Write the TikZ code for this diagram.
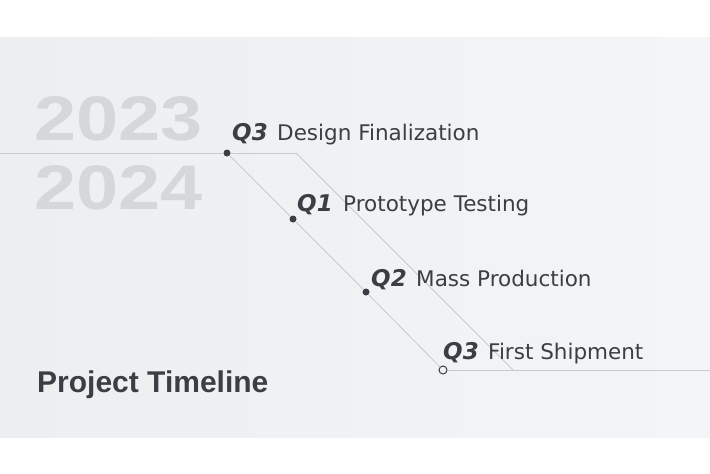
\documentclass[tikz,border=0pt]{standalone}
\usepackage{fontspec}
\usepackage{graphicx}
\setmainfont{DejaVu Sans}
\newfontfamily\libsans{Liberation Sans}
\definecolor{ink}{HTML}{3B3E44}
\definecolor{panelL}{HTML}{EDEEF0}
\definecolor{panelR}{HTML}{F4F5F7}
\definecolor{panel}{HTML}{F1F2F4}
\definecolor{linec}{HTML}{C9CACD}
\definecolor{yearc}{HTML}{D6D7D9}
\begin{document}
\begin{tikzpicture}[x=1pt,y=-1pt,
  dotn/.style={circle,fill=ink,inner sep=0pt,minimum size=7pt},
  opendot/.style={circle,draw=ink,fill=panel,line width=1pt,inner sep=0pt,minimum size=8pt},
  tline/.style={draw=linec,line width=0.8pt},
  qlab/.style={anchor=base west,inner sep=0pt,text=ink,font=\fontsize{23}{27}\selectfont\bfseries\itshape},
  itemlab/.style={anchor=base west,inner sep=0pt,text=ink,font=\fontsize{21.5}{25}\selectfont},
  yearlab/.style={anchor=base west,inner sep=0pt,text=yearc,font=\libsans\bfseries\fontsize{63}{70}\selectfont},
  titlelab/.style={anchor=base west,inner sep=0pt,text=ink,font=\libsans\bfseries\fontsize{30}{34}\selectfont},
]
\useasboundingbox (0,0) rectangle (710,474);
\fill[white] (0,0) rectangle (710,474);
\shade[left color=panelL,right color=panelR] (0,37) rectangle (710,437);

% years
\node[yearlab] (y23) at (34,140) {\scalebox{1.2}[1]{2023}};
\node[yearlab] (y24) at (34,209) {\scalebox{1.2}[1]{2024}};

% coordinates and dots
\coordinate (l0) at (0,153);
\coordinate (l1) at (296,153);
\coordinate (l2) at (513,370);
\coordinate (r0) at (710,370);
\node[dotn] (d1) at (227,153) {};
\node[dotn] (d2) at (293,219) {};
\node[dotn] (d3) at (366,292) {};
\node[opendot] (d4) at (443,370) {};

% lines
\draw[tline] (l0) -- (d1);
\draw[tline] (d1) -- (l1);
\draw[tline] (l1) -- (l2);
\draw[tline] (d1) -- (d2);
\draw[tline] (d2) -- (d3);
\draw[tline] (d3) -- (d4);
\draw[tline] (d4) -- (r0);

% labels
\node[qlab] (q1) at (232,140) {Q3};
\node[itemlab] (t1) at (277,140) {Design Finalization};
\node[qlab] (q2) at (297,211) {Q1};
\node[itemlab] (t2) at (343,211) {Prototype Testing};
\node[qlab] (q3) at (371,286) {Q2};
\node[itemlab] (t3) at (416,286) {Mass Production};
\node[qlab] (q4) at (443,359) {Q3};
\node[itemlab] (t4) at (488,359) {First Shipment};

\node[titlelab] (title) at (37,392) {Project Timeline};
\end{tikzpicture}
\end{document}
